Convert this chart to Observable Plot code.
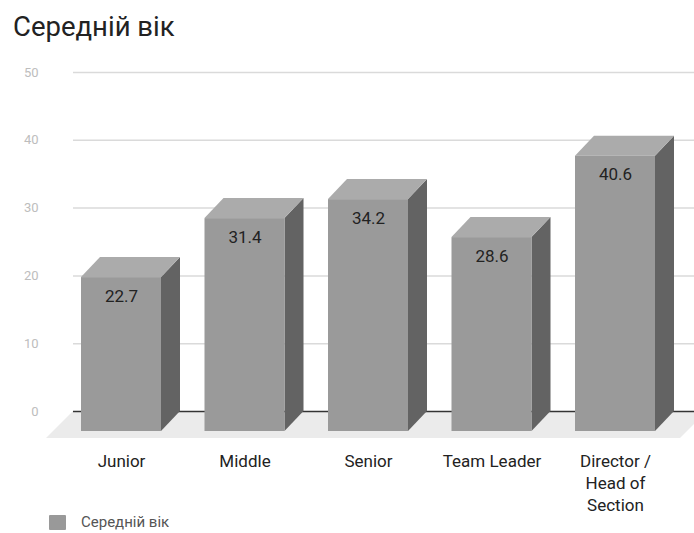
<!DOCTYPE html>
<html><head><meta charset="utf-8">
<script src="https://cdn.jsdelivr.net/npm/d3@7"></script>
<script src="https://cdn.jsdelivr.net/npm/@observablehq/plot@0.6"></script>
<style>
body{margin:0;background:#fff;font-family:Roboto,sans-serif;}
#wrap{position:relative;width:694px;height:533px;overflow:hidden;background:#fff}
#title{position:absolute;left:13px;top:13px;font-size:27.5px;line-height:27.5px;color:#222;white-space:nowrap}
#chart{position:absolute;left:0;top:50px}
#legend{position:absolute;left:49px;top:514px;height:16px;display:flex;align-items:center;font-size:15px;color:#555;white-space:nowrap}
#legend .sw{display:inline-block;width:17px;height:15px;background:#999;margin-right:15px;border-radius:1px}
</style></head><body>
<div id="wrap">
  <div id="title"></div>
  <div id="chart"></div>
  <div id="legend"><span class="sw"></span><span id="legtext"></span></div>
</div>
<script>
const chartTitle = "Середній вік";
const seriesName = "Середній вік";
const categories = ["Junior", "Middle", "Senior", "Team Leader", "Director /\nHead of\nSection"];
const values = [22.7, 31.4, 34.2, 28.6, 40.6];
const yTicks = [0, 10, 20, 30, 40, 50];

document.getElementById("title").textContent = chartTitle;
document.getElementById("legtext").textContent = seriesName;

const W = 694, H = 460;
const xRange = [140, 634], yRange = [361, 22];
const pxX = (xRange[1] - xRange[0]) / (categories.length - 1);
const pxY = (yRange[0] - yRange[1]) / 50;
const DX = 19, DY = 20;            // 3D depth in pixels
const kx = DX / pxX, ky = DY / pxY; // depth in data units
const hw = 40 / pxX;                // half bar width in data units

const bars = values.map((v, i) => ({i, v, label: v.toFixed(1)}));
const sideFace = bars.flatMap(b => [
  {i: b.i, x: b.i + hw - kx, y1: -ky, y2: b.v - ky},
  {i: b.i, x: b.i + hw, y1: 0, y2: b.v}
]);
const topFace = bars.flatMap(b => [
  {i: b.i, y: b.v - ky, x1: b.i - hw - kx, x2: b.i + hw - kx},
  {i: b.i, y: b.v, x1: b.i - hw, x2: b.i + hw}
]);
const FD = 27;
const fx = p => (p - xRange[0]) / pxX;
const floor = [
  {y: 0, x1: fx(73), x2: fx(707)},
  {y: -FD / pxY, x1: fx(73 - FD), x2: fx(707 - FD)}
];

const chart = Plot.plot({
  width: W, height: H,
  marginLeft: 73, marginRight: 0, marginTop: 22, marginBottom: 99,
  style: {fontFamily: "Roboto, sans-serif", background: "transparent", overflow: "visible"},
  x: {type: "linear", domain: [0, categories.length - 1], range: xRange},
  y: {domain: [0, 50], range: yRange},
  marks: [
    Plot.ruleY(yTicks.filter(t => t > 0), {stroke: "#dadada", strokeWidth: 1.5}),
    Plot.areaX(floor, {y: "y", x1: "x1", x2: "x2", fill: "#ebebeb"}),
    Plot.ruleY([0], {stroke: "#333", strokeWidth: 1.5}),
    Plot.areaY(sideFace, {x: "x", y1: "y1", y2: "y2", z: "i", fill: "#636363"}),
    Plot.areaX(topFace, {y: "y", x1: "x1", x2: "x2", z: "i", fill: "#ababab"}),
    Plot.rectY(bars, {x1: d => d.i - hw - kx, x2: d => d.i + hw - kx, y1: -ky, y2: d => d.v - ky, fill: "#9a9a9a"}),
    Plot.text(bars, {x: d => d.i - kx, y: d => d.v - ky, text: "label", dy: 18.5, fontSize: 17, fill: "#222"}),
    Plot.axisY(yTicks, {anchor: "left", tickSize: 0, tickPadding: 35, fontSize: 13, color: "#bdbdbd", label: null}),
    Plot.axisX(d3.range(categories.length), {anchor: "bottom", tickSize: 0, tickPadding: 40, dx: -DX,
      tickFormat: i => categories[i], fontSize: 17, lineHeight: 1.3, color: "#222", label: null})
  ]
});
document.getElementById("chart").appendChild(chart);
</script>
</body></html>
